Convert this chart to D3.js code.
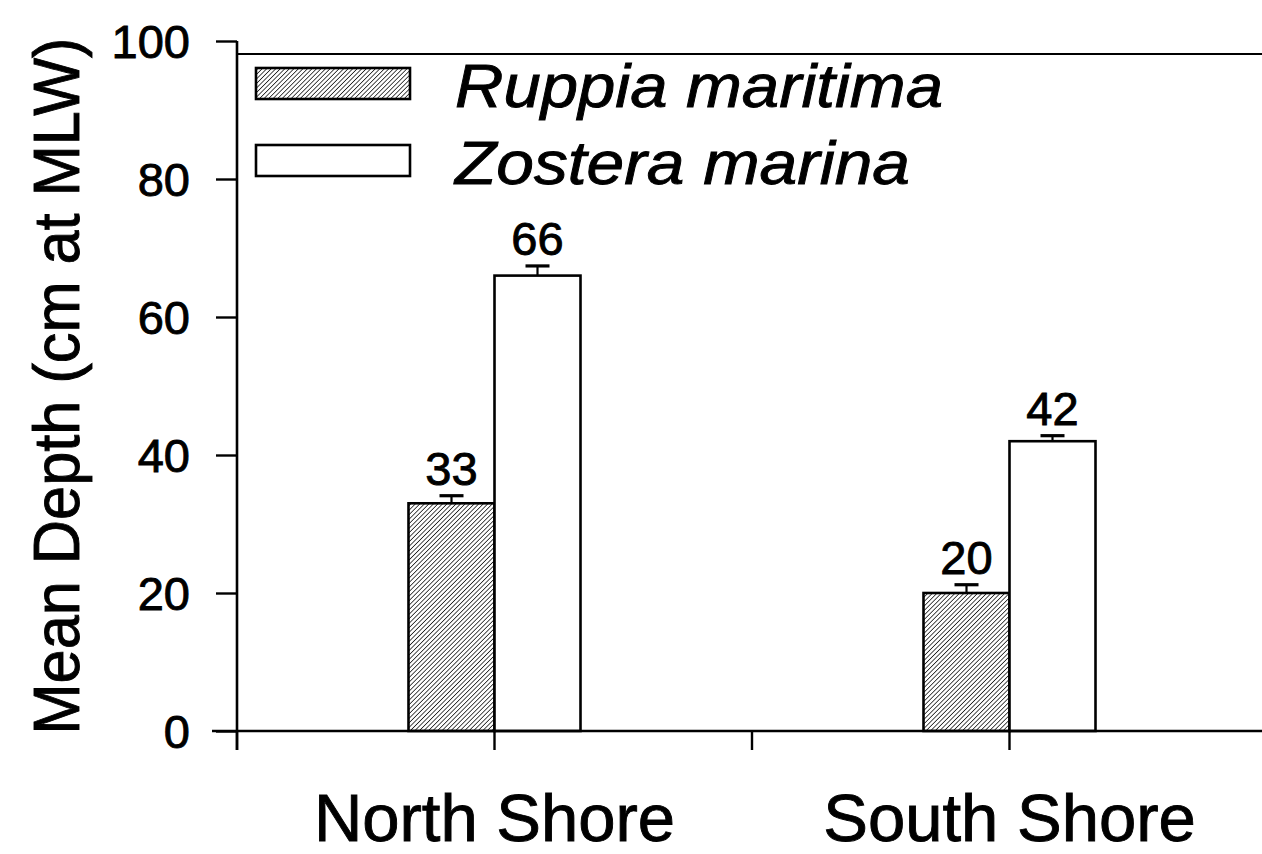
<!DOCTYPE html>
<html>
<head>
<meta charset="utf-8">
<script src="https://cdn.jsdelivr.net/npm/d3@7"></script>
<style>
  html, body { margin: 0; padding: 0; background: #fff; }
  svg { display: block; }
  text { font-family: "Liberation Sans", Arial, Helvetica, sans-serif; fill: #000; stroke: #000; stroke-width: 0.9px; }
</style>
</head>
<body>
<svg id="chart" width="1262" height="854"></svg>
<script>
// Mean depth of seagrass beds by shore
const shores = ["North Shore", "South Shore"];
const species = ["Ruppia maritima", "Zostera marina"];
const ruppiaDepth = [33, 20];
const zosteraDepth = [66, 42];
const ruppiaErr = [1.1, 1.2];
const zosteraErr = [1.4, 0.8];
const yTicks = [0, 20, 40, 60, 80, 100];

const svg = d3.select("#chart");
const plotL = 237, plotR = 1262, plotT = 41, plotB = 731;

const x = d3.scaleBand().domain(shores).range([plotL, plotL + 1030]).padding(0);
const sub = d3.scaleBand().domain(species).range([0, 172]);
const y = d3.scaleLinear().domain([0, 100]).range([plotB, plotT]);

// Diagonal hatch fill
const defs = svg.append("defs");
const pat = defs.append("pattern")
  .attr("id", "hatch").attr("patternUnits", "userSpaceOnUse")
  .attr("width", 3.2).attr("height", 3.2)
  .attr("patternTransform", "rotate(45)");
pat.append("rect").attr("width", 3.2).attr("height", 3.2).attr("fill", "#fff");
pat.append("line").attr("x1", 0).attr("y1", 0).attr("x2", 0).attr("y2", 3.2)
  .attr("stroke", "#111").attr("stroke-width", 1.5);

const fills = { "Ruppia maritima": "url(#hatch)", "Zostera marina": "#fff" };

// Rows for grouped bars
const rows = [];
shores.forEach((s, i) => {
  rows.push({ shore: s, sp: species[0], v: ruppiaDepth[i], e: ruppiaErr[i] });
  rows.push({ shore: s, sp: species[1], v: zosteraDepth[i], e: zosteraErr[i] });
});
const barX = d => x(d.shore) + x.bandwidth() / 2 - sub.bandwidth() + sub(d.sp);

// Y axis
const yAxis = d3.axisLeft(y).tickValues(yTicks).tickSize(21).tickPadding(10).tickFormat(d3.format("d"));
const gy = svg.append("g").attr("transform", `translate(${plotL},0)`).call(yAxis);
gy.select(".domain").remove();
gy.selectAll(".tick line").attr("stroke", "#000").attr("stroke-width", 2.4);
gy.selectAll(".tick text").attr("font-size", 47).attr("dy", "0.36em").attr("x", -47)
  .attr("font-family", "Liberation Sans, Arial, sans-serif");
svg.append("line").attr("x1", plotL).attr("x2", plotL).attr("y1", plotT).attr("y2", plotB + 19)
  .attr("stroke", "#000").attr("stroke-width", 2.6);

// Top frame line
svg.append("line").attr("x1", plotL).attr("x2", plotR).attr("y1", plotT + 13).attr("y2", plotT + 13)
  .attr("stroke", "#000").attr("stroke-width", 2.2);

// Category tick positions: band edges and centres
const xTickPos = [];
shores.forEach(s => { xTickPos.push(x(s)); xTickPos.push(x(s) + x.bandwidth() / 2); });

// Bars
svg.append("g").selectAll("rect").data(rows).join("rect")
  .attr("x", barX).attr("width", sub.bandwidth())
  .attr("y", d => y(d.v)).attr("height", d => y(0) - y(d.v))
  .attr("fill", d => fills[d.sp]).attr("stroke", "#000").attr("stroke-width", 2.6);

// Error bars
const eg = svg.append("g").attr("stroke", "#000");
rows.forEach(d => {
  const cx = barX(d) + sub.bandwidth() / 2;
  eg.append("line").attr("x1", cx).attr("x2", cx).attr("y1", y(d.v)).attr("y2", y(d.v + d.e)).attr("stroke-width", 2.2);
  eg.append("line").attr("x1", cx - 12).attr("x2", cx + 12).attr("y1", y(d.v + d.e)).attr("y2", y(d.v + d.e)).attr("stroke-width", 3.2);
});

// Value labels
svg.append("g").selectAll("text").data(rows).join("text")
  .attr("x", d => barX(d) + sub.bandwidth() / 2)
  .attr("y", d => y(d.v + d.e) - 11)
  .attr("text-anchor", "middle").attr("font-size", 47)
  .text(d => d.v);

// X axis line and ticks
svg.append("line").attr("x1", plotL - 25).attr("x2", plotR).attr("y1", plotB).attr("y2", plotB)
  .attr("stroke", "#000").attr("stroke-width", 2.6);
svg.append("g").selectAll("line").data(xTickPos).join("line")
  .attr("x1", d => d).attr("x2", d => d).attr("y1", plotB).attr("y2", plotB + 19)
  .attr("stroke", "#000").attr("stroke-width", 2.4);

// Category labels
svg.append("g").selectAll("text").data(shores).join("text")
  .attr("x", d => x(d) + x.bandwidth() / 2).attr("y", 841)
  .attr("text-anchor", "middle").attr("font-size", 67)
  .text(d => d);

// Y axis title
svg.append("text")
  .attr("transform", `translate(79, 386) rotate(-90)`)
  .attr("text-anchor", "middle").attr("font-size", 64)
  .attr("textLength", 697).attr("lengthAdjust", "spacingAndGlyphs")
  .text("Mean Depth (cm at MLW)");

// Legend
const legendWidths = [488, 455];
const lg = svg.append("g");
species.forEach((sp, i) => {
  const ly = 68 + i * 77;
  lg.append("rect").attr("x", 256).attr("y", ly).attr("width", 154).attr("height", 31)
    .attr("fill", fills[sp]).attr("stroke", "#000").attr("stroke-width", 2.6);
  lg.append("text").attr("x", 455).attr("y", ly + 39).attr("font-size", 61)
    .attr("font-style", "italic")
    .attr("textLength", legendWidths[i]).attr("lengthAdjust", "spacingAndGlyphs")
    .text(sp);
});
</script>
</body>
</html>
